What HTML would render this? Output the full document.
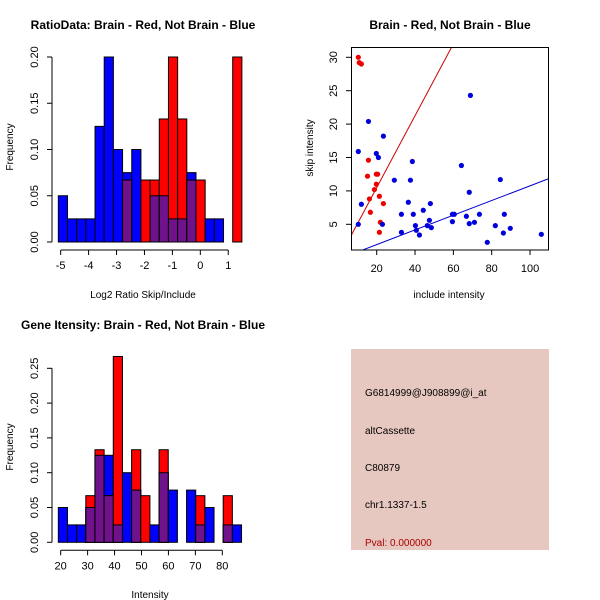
<!DOCTYPE html>
<html><head><meta charset="utf-8"><style>
body{margin:0;background:#fff;}
svg{display:block;font-family:"Liberation Sans",sans-serif;}
</style></head><body>
<svg id="s" width="600" height="600"></svg>
<script>
// Panel 1: log2 ratio histogram
const ratioBlue=[0.05,0.025,0.025,0.025,0.125,0.2,0.1,0.075,0.1,0,0.05,0.05,0.025,0.025,0.075,0,0.025,0.025,0,0];
const ratioRed=[0,0,0,0,0,0,0,0.067,0,0.067,0.067,0.133,0.2,0.133,0.067,0.067,0,0,0,0.2];
const ratioStart=-5.084, ratioBinW=0.3286;
const ratioXTicks=[-5,-4,-3,-2,-1,0,1];
const ratioYTicks=[0,0.05,0.1,0.15,0.2];
// Panel 3: intensity histogram
const intBlue=[0.05,0.025,0.025,0.05,0.125,0.125,0.025,0.1,0.075,0,0.025,0.1,0.075,0,0.075,0.025,0.05,0,0.025,0.025];
const intRed=[0,0,0,0.067,0.133,0.067,0.267,0,0.133,0.067,0,0.133,0,0,0,0.067,0,0,0.067,0];
const intStart=19.13, intBinW=3.40;
const intXTicks=[20,30,40,50,60,70,80];
const intYTicks=[0,0.05,0.1,0.15,0.2,0.25];
// Panel 2: scatter
const redX=[10.4,10.9,12,15.7,15.2,19.8,20.5,19.8,18.8,16.2,16.7,21.4,23.5,21.9,21.4];
const redY=[30,29.2,29,14.6,12.2,12.5,12.5,11,10.2,8.8,6.8,9.2,8.1,5.3,3.8];
const blueX=[10.4,10.4,12,15.7,19.8,20.9,23.5,23,29.2,32.9,32.9,36.5,37.6,38.6,39.1,40.2,40.7,42.3,44.3,46.4,47.5,48,48.5,59.5,60.5,59.5,64.2,66.8,68.3,68.3,68.9,71,73.6,77.7,81.9,84.5,86.1,86.6,89.7,105.9];
const blueY=[5,15.9,8,20.4,15.6,15,18.2,5,11.6,6.5,3.8,8.3,11.6,14.4,6.5,4.8,4.1,3.4,7.1,4.8,5.6,8.1,4.5,6.5,6.5,5.4,13.8,6.2,9.8,5.1,24.3,5.3,6.5,2.3,4.8,11.7,3.7,6.5,4.4,3.5];
const redLine=[7,3.5,0.538];
const blueLine=[12.2,1.1,0.11];
const scXTicks=[20,40,60,80,100];
const scYTicks=[5,10,15,20,25,30];

const NS="http://www.w3.org/2000/svg", S=document.getElementById('s');
function el(t,a,txt){const e=document.createElementNS(NS,t);for(const k in a)e.setAttribute(k,a[k]);if(txt!==undefined)e.textContent=txt;S.appendChild(e);return e;}
function text(x,y,s,o={}){return el('text',Object.assign({x:x,y:y,'font-size':11,'text-anchor':'middle',fill:'#000'},o),s);}

function hist(bx,by,x0,xScale,y0px,yScale,blue,red,start,bw,xt,yt,name,xlab){
  const X=v=>bx+(v-x0)*xScale, Y=v=>y0px-v*yScale;
  for(let i=0;i<blue.length;i++){
    const l=X(start+i*bw), r=X(start+(i+1)*bw);
    const b=blue[i], rd=red[i];
    if(b>0){const e=el('rect',{x:l,y:Y(b),width:r-l,height:b*yScale,fill:'#0000ff',stroke:'#000','stroke-width':1});
      }
    if(rd>0){const e=el('rect',{x:l,y:Y(rd),width:r-l,height:rd*yScale,fill:'#ff0000',stroke:'#000','stroke-width':1});
      }
    const m=Math.min(b,rd);
    if(m>0){const e=el('rect',{x:l,y:Y(m),width:r-l,height:m*yScale,fill:'#70128c',stroke:'#000','stroke-width':1});
      }
  }
  // y axis
  const yx=bx-6-(bx-52);
  el('line',{x1:52,x2:52,y1:Y(yt[0]),y2:Y(yt[yt.length-1]),stroke:'#000'});
  yt.forEach(v=>{el('line',{x1:47,x2:52,y1:Y(v),y2:Y(v),stroke:'#000'});
    const t=text(38,Y(v),v.toFixed(2),{transform:`rotate(-90 38 ${Y(v)})`});
    });
  const ax=y0px+8;
  el('line',{x1:X(xt[0]),x2:X(xt[xt.length-1]),y1:ax,y2:ax,stroke:'#000'});
  xt.forEach(v=>{el('line',{x1:X(v),x2:X(v),y1:ax,y2:ax+5,stroke:'#000'});
    const t=text(X(v),ax+19,String(v));});
}
// panel 1: -5 at 60.67, 27.93 px/unit
hist(60.67,0,-5,27.93,242,925,ratioBlue,ratioRed,ratioStart,ratioBinW,ratioXTicks,ratioYTicks,'ratio-hist');
// panel 3: 20 at 60.67, 2.694 px/unit
hist(60.67,0,20,2.694,542.3,696,intBlue,intRed,intStart,intBinW,intXTicks,intYTicks,'intensity-hist');

// titles & labels
let t;
t=text(143,29,'RatioData: Brain - Red, Not Brain - Blue',{'font-weight':'bold','font-size':12});
t=text(143,298,'Log2 Ratio Skip/Include',{'font-size':10});
t=text(13,147,'Frequency',{'font-size':10,transform:'rotate(-90 13 147)'});
t=text(143,329,'Gene Itensity: Brain - Red, Not Brain - Blue',{'font-weight':'bold','font-size':12});
t=text(150,598,'Intensity',{'font-size':10});
t=text(13,447,'Frequency',{'font-size':10,transform:'rotate(-90 13 447)'});

// scatter
const SX=v=>376.7+(v-20)*1.9165, SY=v=>224.3-(v-5)*6.68;
const box=el('rect',{x:351.5,y:47.5,width:197,height:202.5,fill:'none',stroke:'#000'});

el('clipPath',{id:'c'});
const cp=S.lastChild;const cr=document.createElementNS(NS,'rect');
cr.setAttribute('x',352);cr.setAttribute('y',48);cr.setAttribute('width',196);cr.setAttribute('height',202);cp.appendChild(cr);
function line(p,col,name){const x1=0,x2=120;const e=el('line',{x1:SX(x1),y1:SY(p[1]+(x1-p[0])*p[2]),x2:SX(x2),y2:SY(p[1]+(x2-p[0])*p[2]),stroke:col,'clip-path':'url(#c)'});
  }
line(redLine,'#cc0000','red-fit-line');line(blueLine,'#0000cc','blue-fit-line');
redX.forEach((x,i)=>{const e=el('circle',{cx:SX(x),cy:SY(redY[i]),r:2.6,fill:'#ee0000'});
  });
blueX.forEach((x,i)=>{const e=el('circle',{cx:SX(x),cy:SY(blueY[i]),r:2.6,fill:'#0000dd'});
  });
scXTicks.forEach(v=>{el('line',{x1:SX(v),x2:SX(v),y1:250,y2:255,stroke:'#000'});
  const t=text(SX(v),272,String(v));});
scYTicks.forEach(v=>{el('line',{x1:346,x2:351.5,y1:SY(v),y2:SY(v),stroke:'#000'});
  const t=text(337,SY(v),String(v),{transform:`rotate(-90 337 ${SY(v)})`});});
t=text(450,29,'Brain - Red, Not Brain - Blue',{'font-weight':'bold','font-size':12});
t=text(449,298,'include intensity',{'font-size':10});
t=text(313,148,'skip intensity',{'font-size':10,transform:'rotate(-90 313 148)'});

// info panel
const ip=el('rect',{x:351,y:349,width:198,height:201,fill:'#e6c8c0'});

[['G6814999@J908899@i_at',396,'probe-id'],['altCassette',434,'event-type'],['C80879',471,'cluster-id'],['chr1.1337-1.5',508,'location']].forEach(a=>{
  const t=text(365,a[1],a[0],{'text-anchor':'start','font-size':10});});
t=text(365,546,'Pval: 0.000000',{'text-anchor':'start','font-size':10,fill:'#aa0000'});
</script>
</body></html>
